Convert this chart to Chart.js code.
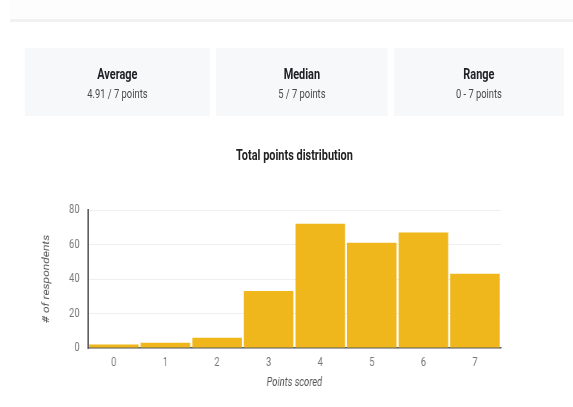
<!DOCTYPE html>
<html>
<head>
<meta charset="utf-8">
<script src="https://cdn.jsdelivr.net/npm/chart.js@4/dist/chart.umd.min.js"></script>
<style>
  html, body { margin: 0; padding: 0; width: 573px; height: 407px; overflow: hidden; background: #fff; }
  #page { position: absolute; left: 0; top: 0; width: 760px; height: 407px; transform: scaleX(0.78); transform-origin: 0 0; font-family: Roboto, "Noto Sans", sans-serif; }
  #topband { position: absolute; left: 13px; top: 0; width: 760px; height: 19px; background: #fdfdfd; }
  #sep { position: absolute; left: 13px; top: 19px; width: 760px; height: 3px; background: #f1f1f1; }
  .card { position: absolute; top: 48px; height: 68px; background: #f7f8f9; text-align: center; }
  .card .h { position: absolute; left: 0; right: 0; top: 18px; font-size: 14px; font-weight: 700; color: #202124; }
  .card .v { position: absolute; left: 0; right: 0; top: 39px; font-size: 12px; color: #4a4a4a; }
  #title { position: absolute; left: 0; width: 755px; top: 146px; line-height: 18px; text-align: center; font-size: 14px; font-weight: 700; color: #222; }
  #c { position: absolute; left: 0; top: 130px; width: 755px; height: 277px; }
</style>
</head>
<body>
<div id="page">
  <div id="topband"></div>
  <div id="sep"></div>
  <div id="cards"></div>
  <div id="title"></div>
  <canvas id="c" width="755" height="277"></canvas>
</div>
<script>
const statLabels = ['Average', 'Median', 'Range'];
const statValues = ['4.91 / 7 points', '5 / 7 points', '0 - 7 points'];
const categories = ['0', '1', '2', '3', '4', '5', '6', '7'];
const respondents = [2, 3, 6, 33, 72, 61, 67, 43];
const chartTitle = 'Total points distribution';
const xTitle = 'Points scored';
const yTitle = '# of respondents';

const cardBoxes = [[32, 237], [277, 220], [505, 218]];
const cards = document.getElementById('cards');
statLabels.forEach((lab, i) => {
  const d = document.createElement('div');
  d.className = 'card';
  d.style.left = cardBoxes[i][0] + 'px';
  d.style.width = cardBoxes[i][1] + 'px';
  d.innerHTML = '<div class="h"></div><div class="v"></div>';
  d.querySelector('.h').textContent = lab;
  d.querySelector('.v').textContent = statValues[i];
  cards.appendChild(d);
});
document.getElementById('title').textContent = chartTitle;

new Chart(document.getElementById('c'), {
  type: 'bar',
  data: {
    labels: categories,
    datasets: [{
      data: respondents,
      backgroundColor: '#f0b71d',
      borderWidth: 0,
      barPercentage: 0.96,
      categoryPercentage: 1.0
    }]
  },
  options: {
    responsive: false,
    devicePixelRatio: 1,
    animation: false,
    layout: { padding: { left: 49, right: 113, top: 80, bottom: 13 } },
    plugins: {
      legend: { display: false },
      tooltip: { enabled: false },
      title: { display: false }
    },
    scales: {
      x: {
        grid: { display: false, drawTicks: false },
        border: { display: true, color: '#5f5f5f', width: 1.5 },
        ticks: { color: '#777', padding: 9, font: { family: 'Roboto', size: 12, lineHeight: 1.0 } },
        title: { display: true, text: xTitle, color: '#555', padding: { top: 0, bottom: 6.4 }, font: { family: 'Roboto', size: 12, style: 'italic', lineHeight: 0.8 } }
      },
      y: {
        min: 0, max: 80,
        ticks: { stepSize: 20, color: '#777', padding: 11, font: { family: 'Roboto', size: 12 } },
        grid: { color: '#efefef', drawTicks: false },
        border: { display: true, color: '#5f5f5f', width: 2 },
        title: { display: true, text: yTitle, color: '#555', padding: { top: 4, bottom: 10 }, font: { family: 'Roboto', size: 12, style: 'italic' } }
      }
    }
  }
});
</script>
</body>
</html>
